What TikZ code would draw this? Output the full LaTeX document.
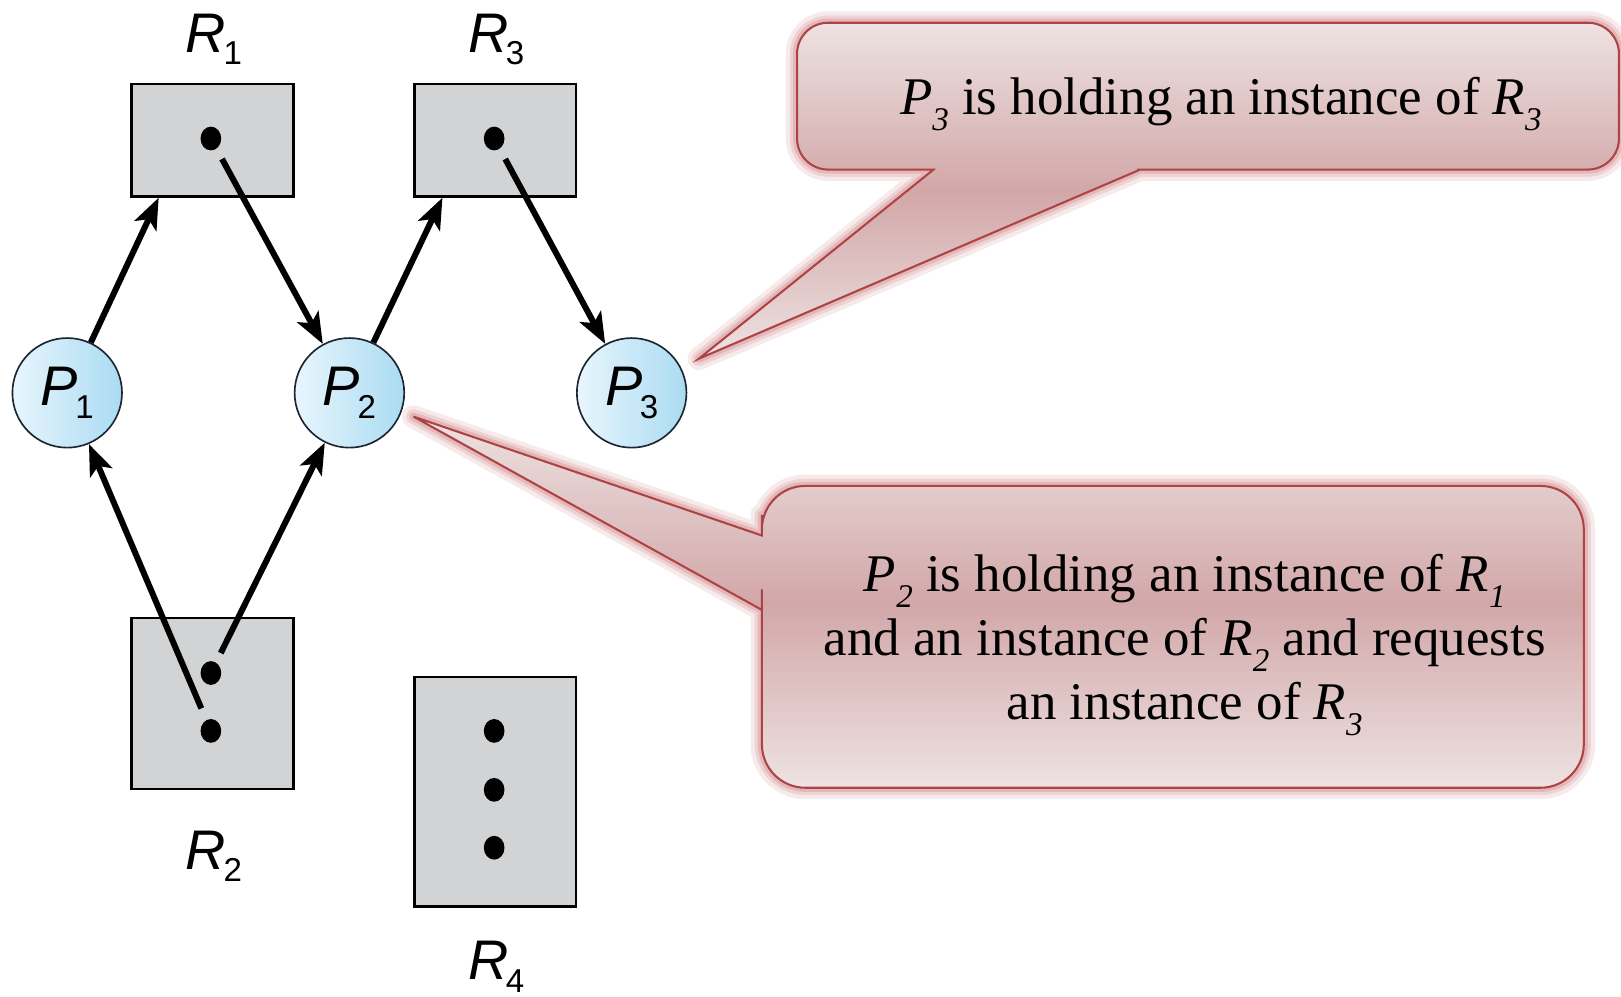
\documentclass[tikz,border=0pt]{standalone}
\usepackage{fontspec}
\setmainfont{Liberation Serif}
\newfontfamily\labelfont{Liberation Sans}
\usetikzlibrary{arrows.meta,shapes.geometric,calc}

\definecolor{boxgray}{HTML}{D1D3D4}
\definecolor{procL}{HTML}{E8F6FD}
\definecolor{procR}{HTML}{AADBF2}
\definecolor{procEdge}{HTML}{1C2530}
\definecolor{noteTop}{HTML}{EEE2E2}
\definecolor{noteMid}{HTML}{D2A7A8}
\definecolor{noteEdge}{HTML}{AE4346}
\definecolor{noteGlow}{HTML}{C0565A}

% sans label with upright subscript (P_1, R_2, ...)
\newcommand\pname[2]{{\itshape #1}\kern-1.2pt\raisebox{-6pt}{\fontsize{16}{16}\selectfont #2}}
% serif italic symbol with italic subscript
\newcommand\tsub[2]{\textit{#1}\raisebox{-0.30em}{\fontsize{16}{16}\selectfont\itshape #2}}

% outlines of the two speech bubbles
\newcommand\noteonepath[1]{\path[#1] (1170,22) [rounded corners=15pt] -- (1566,22) -- (1566,164)
  -- (1130,164) [sharp corners] -- (1103,164) -- (676,347) -- (903,164) -- (880,164)
  [rounded corners=15pt] -- (771,164) -- (771,22) -- cycle;}
\newcommand\notetwopath[1]{\path[#1] (1130,470) [rounded corners=21pt] -- (1532,470) -- (1532,762)
  -- (737,762) -- (737,612) [sharp corners] -- (737,590) -- (400,403) -- (737,518) -- (737,498)
  [rounded corners=21pt] -- (737,470) -- cycle;}

\begin{document}
\begin{tikzpicture}[x=0.5pt,y=-0.5pt,
  resbox/.style={rectangle, draw=black, line width=1.2pt, fill=boxgray, inner sep=0pt},
  proc/.style={circle, draw=procEdge, line width=0.8pt, left color=procL, right color=procR,
    minimum size=53pt, inner sep=0pt, font=\labelfont\fontsize{27}{27}\selectfont},
  inst/.style={ellipse, fill=black, minimum width=10pt, minimum height=11.5pt, inner sep=0pt},
  rlabel/.style={inner sep=0pt, font=\labelfont\fontsize{27}{27}\selectfont},
  edge/.style={line width=2.9pt, -{Stealth[length=15pt,width=11.5pt,inset=3.5pt]}},
  notetext/.style={inner sep=0pt, anchor=base, font=\fontsize{25.6}{31}\selectfont},
  glow/.style={draw=noteGlow, line join=round, opacity=#1},
  notefill/.style={top color=noteTop, bottom color=noteTop, middle color=noteMid,
    draw=noteEdge, line width=1pt, line join=miter}
]
\useasboundingbox (0,0) rectangle (1568,964);

% resources
\node[resbox, minimum width=78.5pt, minimum height=54.5pt] (R1) at (205.5,135.5) {};
\node[resbox, minimum width=78pt,   minimum height=54.5pt] (R3) at (479,135.5) {};
\node[resbox, minimum width=78.5pt, minimum height=82.5pt] (R2) at (205.5,680.5) {};
\node[resbox, minimum width=78pt,   minimum height=111pt]  (R4) at (479,766) {};

\node[rlabel] (R1l) at (207,38)  {\pname{R}{1}};
\node[rlabel] (R3l) at (480,38)  {\pname{R}{3}};
\node[rlabel] (R2l) at (207,828) {\pname{R}{2}};
\node[rlabel] (R4l) at (480,935) {\pname{R}{4}};

% instances
\node[inst] (r1d) at (204,134) {};
\node[inst] (r3d) at (478,134) {};
\node[inst] (r2a) at (204,651) {};
\node[inst] (r2b) at (204,707) {};
\node[inst] (r4a) at (478,707) {};
\node[inst] (r4b) at (478,764) {};
\node[inst] (r4c) at (478,820) {};

% processes
\node[proc] (P1) at (65,380)  {\pname{P}{1}};
\node[proc] (P2) at (338,380) {\pname{P}{2}};
\node[proc] (P3) at (611,380) {\pname{P}{3}};

% request and assignment edges
\draw[edge] (P1) -- ($(R1.south)+(-52,0)$);
\draw[edge] (P2) -- ($(R3.south)+(-51,0)$);
\draw[edge, shorten <=5.5pt] (r1d) -- (P2);
\draw[edge, shorten <=5.5pt] (r3d) -- (P3);
\draw[edge, shorten <=6pt]   (r2b) -- (P1);
\draw[edge, shorten <=5pt]   (r2a) -- (P2);

% speech bubbles
\noteonepath{glow=0.12, line width=11pt}
\noteonepath{glow=0.16, line width=7pt}
\noteonepath{glow=0.22, line width=4pt}
\noteonepath{notefill}

\notetwopath{glow=0.12, line width=11pt}
\notetwopath{glow=0.16, line width=7pt}
\notetwopath{glow=0.22, line width=4pt}
\notetwopath{notefill}

\node[notetext] (n1) at (1181,111) {\tsub{P}{3} is holding an instance of \tsub{R}{3}};
\node[notetext] (n2a) at (1146,572) {\tsub{P}{2} is holding an instance of \tsub{R}{1}};
\node[notetext] (n2b) at (1146,634) {and an instance of \tsub{R}{2} and requests};
\node[notetext] (n2c) at (1146,696) {an instance of \tsub{R}{3}};
\end{tikzpicture}
\end{document}
